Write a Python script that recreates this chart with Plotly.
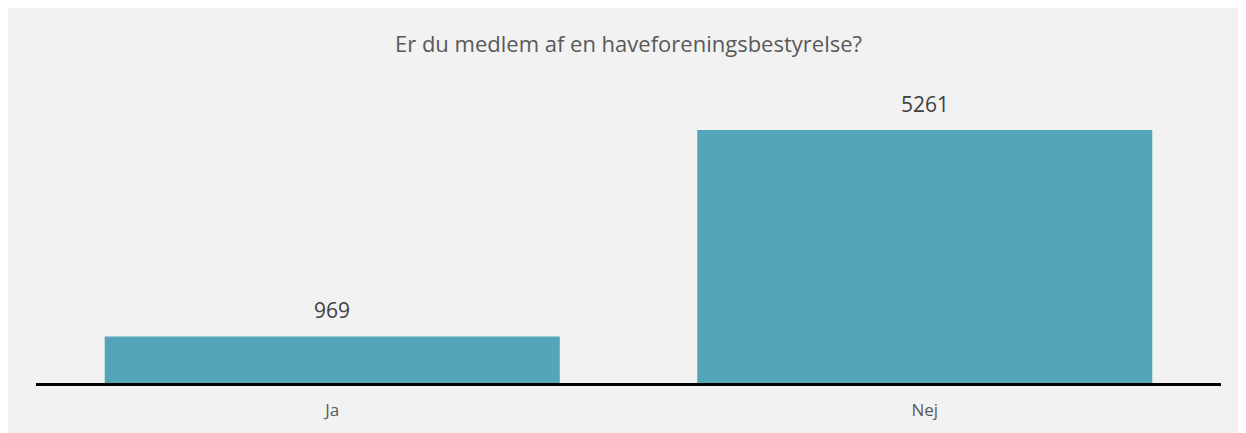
import plotly.graph_objects as go

categories = ["Ja", "Nej"]
values = [969, 5261]
title_text = "Er du medlem af en haveforeningsbestyrelse?"

BAR_COLOR = "#55A5B9"
BG = "#F2F2F2"

W, H = 1246, 433
ml, mr, mt, mb = 28, 33, 72, 58
ph = H - mt - mb

fig = go.Figure()
fig.add_trace(go.Bar(x=categories, y=values, marker=dict(color=BAR_COLOR, line=dict(width=0)),
                     hoverinfo="x+y"))

for c, v in zip(categories, values):
    fig.add_annotation(x=c, y=v, text=str(v), showarrow=False, yanchor="bottom",
                       yshift=10, font=dict(family="Open Sans", size=21, color="#404040"))

fig.update_layout(
    width=W, height=H,
    margin=dict(l=ml, r=mr, t=mt, b=mb),
    paper_bgcolor=BG,
    plot_bgcolor=BG,
    bargap=0.232,
    showlegend=False,
    title=dict(text=title_text, x=0.5, xref="paper", xanchor="center",
               y=1 - 36 / H, yref="container", yanchor="middle",
               font=dict(family="Open Sans", size=22, color="#595959")),
    xaxis=dict(showline=True, linecolor="black", linewidth=3, ticks="",
               showgrid=False, zeroline=False,
               tickfont=dict(family="Open Sans", size=17, color="#595959"),
               ticklabelstandoff=10),
    yaxis=dict(range=[0, 5261 * ph / 253], visible=False, showgrid=False, zeroline=False),
)

fig.write_html("out.html")
